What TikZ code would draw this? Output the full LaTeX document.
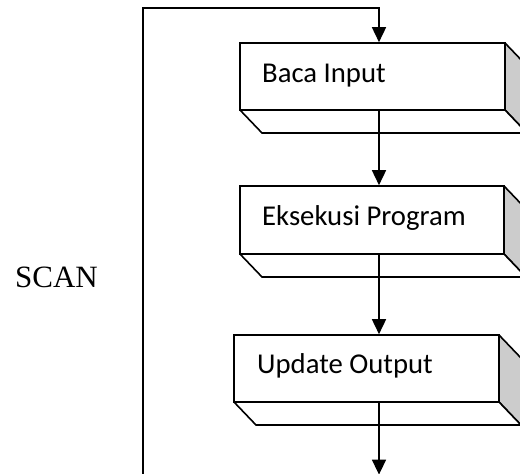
\documentclass[tikz,border=0pt]{standalone}
\usepackage{fontspec}
\setmainfont{Liberation Serif}
\newfontfamily\boxfont{Carlito}
\usetikzlibrary{arrows.meta}
\begin{document}
\begin{tikzpicture}[x=1pt,y=-1pt,
  face/.style={draw, line width=1.6pt, fill=white, inner sep=0pt},
  sideface/.style={draw, line width=1.6pt, fill=black!20, line join=miter},
  bottomface/.style={draw, line width=1.6pt, fill=white, line join=miter},
  lbl/.style={anchor=base west, inner sep=0pt, font=\boxfont\fontsize{28.7}{34}\selectfont},
  scanlbl/.style={anchor=base west, inner sep=0pt, font=\fontsize{31}{36}\selectfont},
  flow/.style={line width=1.6pt, line join=miter, -{Triangle[width=14pt,length=15pt]}},
  loopline/.style={line width=1.6pt, line join=miter}]
\useasboundingbox (0,0) rectangle (520,474);
\clip (0,0) rectangle (520,474);
\fill[white] (0,0) rectangle (520,474);

% box 1
\fill[black!20] (505,43) -- (527,66) -- (527,133) -- (505,110) -- cycle;
\draw[sideface] (505,43) -- (527,66) -- (527,133) -- (505,110);
\draw[bottomface] (240,110) -- (262,133) -- (527,133) -- (505,110);
\node[face, minimum width=265pt, minimum height=67pt] (b1) at (372.5,76.5) {};
\node[lbl] (t1) at (262,82) {Baca Input};

% box 2
\fill[black!20] (504,186) -- (526,209) -- (526,277) -- (504,254) -- cycle;
\draw[sideface] (504,186) -- (526,209) -- (526,277) -- (504,254);
\draw[bottomface] (240,254) -- (262,277) -- (526,277) -- (504,254);
\node[face, minimum width=264pt, minimum height=68pt] (b2) at (372,220) {};
\node[lbl] (t2) at (262,225) {Eksekusi Program};

% box 3
\fill[black!20] (499,335) -- (521,358) -- (521,425) -- (499,402) -- cycle;
\draw[sideface] (499,335) -- (521,358) -- (521,425) -- (499,402);
\draw[bottomface] (234,402) -- (256,425) -- (521,425) -- (499,402);
\node[face, minimum width=265pt, minimum height=67pt] (b3) at (366.5,368.5) {};
\node[lbl] (t3) at (257,373) {Update Output};

% SCAN label
\node[scanlbl] (scan) at (15,287) {SCAN};

% connectors
\coordinate (col) at (379,0);
\coordinate (lt) at (143,8);
\coordinate (lb) at (143,474.6);
\draw[loopline] (lb) -- (lb -| col);
\draw[flow] (lb) -- (lt) -- (lt -| col) -- (b1.north -| col);
\draw[flow] (b1.south -| col) -- (b2.north -| col);
\draw[flow] (b2.south -| col) -- (b3.north -| col);
\draw[flow] (b3.south -| col) -- (col |- lb);
\end{tikzpicture}
\end{document}
